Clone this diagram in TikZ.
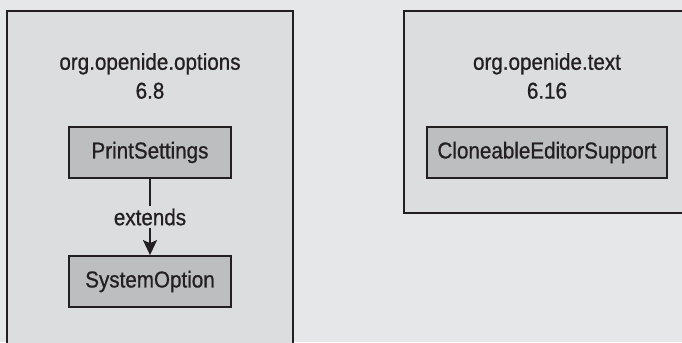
\documentclass[tikz,border=0pt]{standalone}
\usepackage{fontspec}
\setmainfont[FakeStretch=0.9, FakeBold=0.8]{Liberation Sans}
\usetikzlibrary{arrows.meta}
\definecolor{pagebg}{HTML}{E6E7E8}
\definecolor{pkgfill}{HTML}{DCDDDE}
\definecolor{clsfill}{HTML}{BCBEC0}
\definecolor{ink}{HTML}{231F20}
\tikzset{
  pkg/.style={draw=ink, line width=1.4bp, fill=pkgfill},
  cls/.style={draw=ink, line width=1.8bp, fill=clsfill, minimum width=162bp,
    minimum height=51bp, inner sep=0pt, font=\fontsize{23}{26}\selectfont, text=ink},
  title/.style={align=center, font=\fontsize{23}{29}\selectfont, text=ink},
  rel/.style={draw=ink, line width=1.6bp},
}
\begin{document}
\begin{tikzpicture}[x=1bp, y=1bp]
  \useasboundingbox (0,0) rectangle (682,-342);
  \clip (0,0) rectangle (682,-342);
  \fill[pagebg] (0,0) rectangle (682,-342);
  % package frames
  \draw[pkg] (7,-11) rectangle (293,-360);
  \draw[pkg] (404,-11) rectangle (700,-213);
  % package titles
  \node[title] (optT) at (150,-76) {org.openide.options\\6.8};
  \node[title] (textT) at (547,-76) {org.openide.text\\6.16};
  % classes
  \node[cls] (ps) at (150,-152.5) {PrintSettings};
  \node[cls] (so) at (150,-281.5) {SystemOption};
  \node[cls, minimum width=240bp] (ces) at (547,-152.5) {CloneableEditorSupport};
  % inheritance
  \draw[rel, -{Stealth[width=14bp,length=15bp,inset=3bp]}] (ps.south) --
    node[fill=pkgfill, inner sep=3bp, font=\fontsize{23}{26}\selectfont, text=ink] (ext) {extends}
    (so.north);
\end{tikzpicture}
\end{document}
